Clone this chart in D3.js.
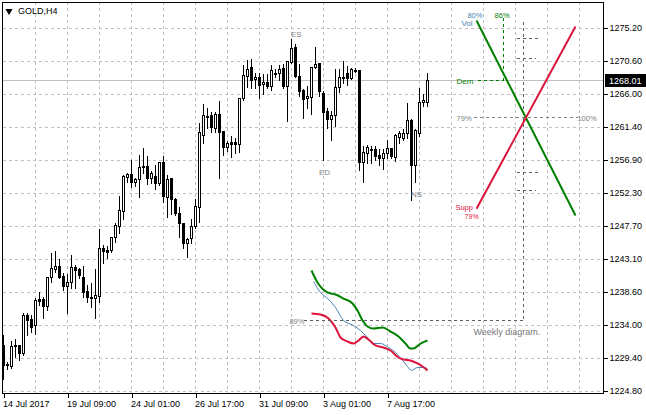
<!DOCTYPE html>
<html><head><meta charset="utf-8">
<script src="https://d3js.org/d3.v7.min.js"></script>
<style>
html,body{margin:0;padding:0;background:#fff;}
svg{display:block;font-family:"Liberation Sans",Arial,sans-serif;}
</style></head>
<body><svg id="c" width="646" height="415"></svg>
<script>
// ---- DATA ----
const symbol = "GOLD,H4";
const timeLabels = ["14 Jul 2017","19 Jul 09:00","24 Jul 01:00","26 Jul 17:00","31 Jul 09:00","3 Aug 01:00","7 Aug 17:00"];
const timeLabelBars = [0,16,32,48,64,80,96];
const priceTicks = [1275.20,1270.60,1266.00,1261.40,1256.90,1252.30,1247.70,1243.10,1238.60,1234.00,1229.40,1224.80];
const lastPrice = 1268.01;

const open = [1231.19,1228.55,1228.27,1231.19,1231.19,1230.08,1235.35,1234.80,1233.96,1237.57,
1237.57,1236.60,1240.63,1241.74,1242.16,1240.77,1239.38,1239.93,1242.02,1241.74,
1240.63,1238.68,1237.85,1237.71,1237.99,1244.65,1244.38,1244.38,1246.18,1247.71,
1249.79,1254.51,1254.93,1253.82,1254.24,1255.90,1256.04,1254.38,1254.65,1253.68,
1256.60,1251.74,1254.38,1251.46,1249.52,1248.13,1245.35,1246.04,1247.71,1250.35,
1260.35,1262.98,1263.12,1261.32,1263.26,1260.90,1258.68,1259.37,1259.37,1259.10,
1265.48,1268.54,1269.79,1268.12,1268.40,1267.43,1267.70,1267.15,1268.95,1268.95,
1269.65,1267.15,1270.48,1272.56,1268.54,1266.59,1265.48,1265.62,1269.79,1270.34,
1266.18,1263.68,1262.57,1263.12,1267.01,1268.40,1268.95,1268.26,1269.37,1269.37,
1256.60,1257.85,1258.40,1258.40,1257.57,1257.15,1257.85,1258.54,1257.29,1260.07,
1259.93,1260.62,1262.43,1256.18,1260.62,1264.93,1264.93];
const high = [1232.71,1228.97,1231.88,1232.16,1231.33,1235.77,1235.77,1235.49,1237.85,1238.68,
1237.99,1240.77,1244.10,1244.38,1243.27,1241.32,1241.18,1243.82,1242.43,1242.02,
1242.30,1239.66,1239.93,1241.88,1247.43,1245.21,1245.07,1246.32,1248.27,1252.01,
1254.93,1255.21,1257.01,1254.51,1257.71,1258.68,1257.57,1255.49,1256.32,1256.74,
1257.57,1254.93,1254.51,1251.74,1250.49,1248.27,1246.18,1248.82,1251.60,1262.15,
1264.79,1264.23,1263.68,1263.68,1265.21,1261.04,1259.65,1260.35,1260.07,1265.62,
1270.20,1270.90,1271.04,1269.09,1269.09,1268.95,1268.95,1270.20,1269.65,1270.20,
1270.34,1270.76,1273.81,1273.12,1270.34,1266.87,1267.29,1269.93,1272.70,1270.48,
1266.59,1264.23,1263.82,1269.65,1269.65,1270.76,1270.07,1269.79,1269.79,1269.51,
1258.96,1259.10,1258.96,1258.96,1258.54,1258.54,1259.79,1258.68,1260.62,1261.04,
1261.32,1264.93,1262.71,1261.32,1267.01,1266.18,1269.09];
const low = [1226.47,1227.85,1227.99,1229.52,1229.10,1229.80,1232.58,1232.99,1232.71,1236.74,
1234.94,1236.05,1239.93,1241.32,1240.49,1238.82,1235.63,1239.10,1239.10,1240.49,
1237.85,1237.16,1236.46,1234.94,1237.16,1242.57,1243.27,1244.10,1245.49,1246.74,
1248.68,1253.82,1253.13,1253.26,1251.74,1255.07,1253.54,1253.68,1252.85,1253.40,
1251.04,1248.96,1249.38,1249.24,1246.18,1244.65,1243.41,1245.35,1247.43,1248.27,
1259.23,1261.32,1260.76,1260.76,1254.38,1257.57,1258.12,1257.29,1257.85,1257.99,
1265.21,1267.01,1266.87,1266.87,1265.48,1266.04,1266.87,1266.59,1268.40,1267.98,
1266.87,1262.29,1270.34,1268.40,1265.76,1262.71,1264.09,1263.26,1269.65,1265.76,
1256.87,1261.32,1259.65,1261.60,1266.32,1267.57,1267.29,1268.12,1269.09,1255.49,
1253.82,1256.46,1256.46,1256.87,1256.18,1255.62,1257.15,1257.15,1256.74,1259.23,
1259.65,1259.93,1251.32,1253.82,1260.21,1264.37,1264.37];
const close = [1228.41,1228.41,1231.05,1231.05,1230.08,1235.35,1234.66,1233.69,1237.44,1237.30,
1236.60,1240.63,1241.88,1242.16,1240.63,1239.38,1239.93,1242.02,1241.60,1240.91,
1238.55,1237.85,1237.71,1238.13,1244.65,1244.24,1244.10,1246.18,1247.85,1249.93,
1254.65,1254.93,1253.82,1254.24,1255.90,1256.04,1254.38,1255.07,1253.68,1256.60,
1251.88,1254.24,1251.46,1249.52,1248.13,1245.35,1245.91,1247.71,1250.49,1260.76,
1263.12,1262.84,1261.46,1263.26,1260.76,1258.68,1259.23,1259.10,1259.10,1265.48,
1268.68,1269.51,1267.98,1268.40,1267.29,1267.70,1267.15,1269.37,1268.82,1269.51,
1267.15,1270.62,1272.43,1268.54,1266.46,1265.34,1265.76,1269.79,1270.20,1266.46,
1263.54,1262.57,1263.12,1267.01,1268.40,1268.26,1268.26,1269.51,1269.23,1256.60,
1257.99,1258.68,1258.26,1257.43,1257.15,1257.85,1258.54,1257.43,1260.35,1260.62,
1260.62,1262.43,1256.18,1261.04,1264.93,1265.21,1268.01];

// lower indicator lines (bar index, price)
const greenBars  = [77,78.5,81,83,85,87.25,88.5,89.75,91,92.5,94.75,96.75,98.75,100.5,101.75,102.5,104.25,106];
const greenVals  = [1241.60,1239.93,1238.55,1238.27,1237.71,1237.02,1236.05,1234.66,1233.83,1233.55,1233.69,1233.13,1232.44,1231.46,1230.77,1230.77,1231.46,1231.88];
const redBars    = [77,79.25,81.25,83,84.25,86,87.5,88.75,90,91.25,93,95,96.75,98.75,100,101.75,103.5,104.75,106];
const redVals    = [1235.63,1235.49,1234.94,1233.69,1232.30,1231.74,1231.46,1231.88,1232.44,1232.02,1231.19,1230.91,1230.49,1229.52,1229.24,1229.10,1228.69,1228.27,1227.72];
const blueBars   = [77.5,79.25,81,83,85,87.5,89.25,91,92.5,94.25,96.25,98,99.75,101,102,103.5,105,106];
const blueVals   = [1240.07,1238.55,1237.71,1236.46,1234.66,1233.96,1233.27,1232.30,1231.46,1231.46,1230.91,1230.22,1229.10,1228.27,1227.72,1228.13,1228.13,1227.99];

// weekly diagram (bar index, price)
const demandLine = [[118.25,1276.31],[143,1249.24]];
const supplyLine = [[118.25,1250.17],[143,1275.48]];
const dashSegs = [
  {pts:[[125,1276.69],[125,1267.98]], color:"#008000"},
  {pts:[[118.5,1267.98],[125,1267.98]], color:"#008000"},
  {pts:[[117.5,1262.84],[143.5,1262.84]], color:"#808080"},
  {pts:[[130,1276.04],[130,1234.66]], color:"#606060"},
  {pts:[[75,1234.66],[130,1234.66]], color:"#606060"},
  {pts:[[128.25,1273.81],[133.5,1273.81]], color:"#606060"},
  {pts:[[128.25,1271.04],[133,1271.04]], color:"#606060"},
  {pts:[[128.25,1255.21],[133.5,1255.21]], color:"#606060"},
  {pts:[[128.25,1252.71],[133,1252.71]], color:"#606060"}
];
const notes = [
  {t:"ES", b:72, p:1274.09, c:"#808080", s:8},
  {t:"ED", b:79, p:1254.93, c:"#808080", s:8},
  {t:"NS", b:102, p:1251.88, c:"#808080", s:8},
  {t:"80%", b:116.1, p:1276.73, c:"#4682B4", s:7.5},
  {t:"Vol", b:114.6, p:1275.62, c:"#4682B4", s:8},
  {t:"86%", b:122.9, p:1276.73, c:"#008000", s:7.5},
  {t:"Dem", b:113.4, p:1267.57, c:"#008000", s:8},
  {t:"79%", b:113.4, p:1262.43, c:"#808080", s:7.5},
  {t:"100%", b:143.6, p:1262.43, c:"#808080", s:7.5},
  {t:"Supp", b:113.1, p:1250.07, c:"#DC143C", s:7.5},
  {t:"79%", b:115.4, p:1248.82, c:"#DC143C", s:7},
  {t:"89%", b:71.6, p:1234.24, c:"#808080", s:7.5},
  {t:"Weekly diagram.", b:117.6, p:1232.71, c:"#777777", s:9}
];

// ---- CHART ----
const svg = d3.select("#c");
const L = 3, R = 603, T = 2, B = 393;
const x = d3.scaleLinear().domain([0,150]).range([3.5,603.5]);
const y = d3.scaleLinear().domain([1224.8,1275.2]).range([391.5,28.5]);
const snap = v => Math.round(v - 0.5) + 0.5;

svg.append("defs").append("clipPath").attr("id","pc")
  .append("rect").attr("x",L).attr("y",T).attr("width",R-L).attr("height",B-T);

// grid
const grid = svg.append("g").attr("stroke","#c0c0c0").attr("stroke-dasharray","3,3").attr("shape-rendering","crispEdges");
priceTicks.forEach(p => grid.append("line").attr("x1",L).attr("x2",R)
  .attr("y1",snap(y(p))).attr("y2",snap(y(p))));
d3.range(8,150,8).forEach(b => grid.append("line").attr("y1",T).attr("y2",B)
  .attr("x1",x(b)).attr("x2",x(b)));

// current price line
svg.append("line").attr("x1",L).attr("x2",R).attr("y1",snap(y(lastPrice))).attr("y2",snap(y(lastPrice)))
  .attr("stroke","#c0c0c0").attr("shape-rendering","crispEdges");

const plot = svg.append("g").attr("clip-path","url(#pc)");

// candles
const candles = open.map((o,i)=>({i,o,h:high[i],l:low[i],c:close[i]}));
const cg = plot.append("g").attr("shape-rendering","crispEdges");
candles.forEach(d => {
  const cx = x(d.i);
  cg.append("line").attr("x1",cx).attr("x2",cx).attr("y1",snap(y(d.h))).attr("y2",snap(y(d.l)))
    .attr("stroke","#000");
  const top = snap(y(Math.max(d.o,d.c))), bot = snap(y(Math.min(d.o,d.c)));
  cg.append("rect").attr("x",cx-1).attr("width",2).attr("y",top).attr("height",Math.max(0,bot-top))
    .attr("fill", d.c >= d.o ? "#fff" : "#000").attr("stroke","#000");
});

// lower indicator lines
const lineGen = d3.line().x(d=>x(d[0])).y(d=>y(d[1])).curve(d3.curveMonotoneX);
const zip = (a,b)=>a.map((v,i)=>[v,b[i]]);
plot.append("path").attr("d",lineGen(zip(blueBars,blueVals))).attr("fill","none").attr("stroke","#4682B4").attr("stroke-width",1);
plot.append("path").attr("d",lineGen(zip(greenBars,greenVals))).attr("fill","none").attr("stroke","#008000").attr("stroke-width",2);
plot.append("path").attr("d",lineGen(zip(redBars,redVals))).attr("fill","none").attr("stroke","#DC143C").attr("stroke-width",2);

// weekly diagram
const lin = d3.line().x(d=>x(d[0])).y(d=>y(d[1]));
dashSegs.forEach(s => plot.append("path").attr("d",lin(s.pts.map(p=>[p[0],p[1]])))
  .attr("fill","none").attr("stroke",s.color).attr("stroke-dasharray","3,3").attr("shape-rendering","crispEdges"));
plot.append("path").attr("d",lin(demandLine)).attr("fill","none").attr("stroke","#008000").attr("stroke-width",2);
plot.append("path").attr("d",lin(supplyLine)).attr("fill","none").attr("stroke","#DC143C").attr("stroke-width",2);

notes.forEach(n => plot.append("text").attr("x",x(n.b)-0.5).attr("y",y(n.p)+0.5)
  .attr("fill",n.c).attr("font-size",n.s).text(n.t));

// frame
svg.append("rect").attr("x",L-0.5).attr("y",T+0.5).attr("width",R-L+1).attr("height",B-T)
  .attr("fill","none").attr("stroke","#000").attr("shape-rendering","crispEdges");

// right axis
const ya = svg.append("g").attr("transform",`translate(${R+0.5},0)`)
  .call(d3.axisRight(y).tickValues(priceTicks).tickFormat(d3.format(".2f")).tickSizeInner(4).tickSizeOuter(0).tickPadding(2));
ya.select(".domain").remove();
ya.selectAll("text").attr("font-size",9).attr("font-family","'Liberation Sans',Arial,sans-serif").attr("fill","#000");
ya.selectAll(".tick line").attr("stroke","#000").attr("shape-rendering","crispEdges");
ya.selectAll(".tick").attr("transform",d=>`translate(0,${snap(y(d))})`);

// current price tag
const lp = svg.append("g");
lp.append("rect").attr("x",R+2).attr("y",snap(y(lastPrice))-6.5).attr("width",646-R-2).attr("height",13).attr("fill","#000");
lp.append("text").attr("x",R+6).attr("y",snap(y(lastPrice))).attr("dy","0.34em").attr("fill","#fff")
  .attr("font-size",9).text(d3.format(".2f")(lastPrice));

// bottom axis
const xa = svg.append("g").attr("transform",`translate(0,${B+0.5})`)
  .call(d3.axisBottom(x).tickValues(timeLabelBars).tickFormat((d,i)=>timeLabels[i]).tickSizeInner(4).tickSizeOuter(0).tickPadding(3));
xa.select(".domain").remove();
xa.selectAll("text").attr("font-size",9).attr("font-family","'Liberation Sans',Arial,sans-serif").attr("fill","#000").attr("text-anchor","start").attr("dx",-1);
xa.selectAll(".tick line").attr("stroke","#000").attr("shape-rendering","crispEdges");

// title
svg.append("path").attr("d",d3.symbol(d3.symbolTriangle,22)()).attr("transform","translate(9,11) rotate(180)").attr("fill","#000");
svg.append("text").attr("x",18).attr("y",14).attr("font-size",9).attr("fill","#000").text(symbol);
</script></body></html>
